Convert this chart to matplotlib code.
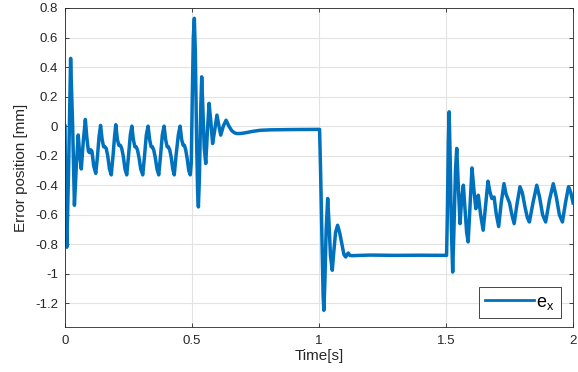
import matplotlib
matplotlib.use("Agg")
import matplotlib.pyplot as plt
from matplotlib.ticker import FuncFormatter

# 读图得到的误差曲线 (time [s], error [mm])
t = [0.000, 0.003, 0.007, 0.014, 0.022, 0.030, 0.037, 0.045, 0.052, 0.058, 0.064, 0.072,
     0.080, 0.086, 0.092, 0.097, 0.101, 0.106, 0.113, 0.121, 0.128, 0.134,
     0.140, 0.146, 0.152, 0.157, 0.162, 0.168, 0.175, 0.182, 0.189, 0.195,
     0.200, 0.206, 0.212, 0.218, 0.223, 0.229, 0.236, 0.243, 0.250, 0.257,
     0.263, 0.269, 0.275, 0.280, 0.285, 0.291, 0.298, 0.306, 0.313, 0.320,
     0.327, 0.333, 0.339, 0.344, 0.349, 0.355, 0.362, 0.369, 0.376, 0.383,
     0.390, 0.396, 0.402, 0.407, 0.412, 0.418, 0.424, 0.430, 0.437, 0.446,
     0.453, 0.459, 0.465, 0.470, 0.475, 0.481, 0.487, 0.493, 0.497,
     0.501, 0.505, 0.509, 0.513, 0.518, 0.522, 0.525, 0.529, 0.534, 0.538,
     0.542, 0.548, 0.554, 0.560, 0.567, 0.574, 0.581, 0.589, 0.598, 0.606,
     0.613, 0.623, 0.634, 0.645, 0.656, 0.667, 0.676, 0.690, 0.710, 0.740,
     0.770, 0.810, 0.900, 0.995, 1.002,
     1.006, 1.012, 1.016, 1.019, 1.023, 1.028, 1.034, 1.039, 1.045, 1.052,
     1.058, 1.065, 1.073, 1.081, 1.090, 1.098, 1.105, 1.110, 1.115, 1.121,
     1.129, 1.200, 1.300, 1.400, 1.502,
     1.505, 1.509, 1.512, 1.516, 1.521, 1.526, 1.531, 1.537, 1.542, 1.548,
     1.555, 1.561, 1.568, 1.574, 1.581, 1.587, 1.594, 1.602, 1.609, 1.617,
     1.622, 1.627, 1.636, 1.646, 1.655, 1.665, 1.672, 1.680, 1.689, 1.698,
     1.707, 1.717, 1.728, 1.736, 1.745, 1.750, 1.759, 1.768, 1.779, 1.791,
     1.800, 1.811, 1.820, 1.828, 1.842, 1.857, 1.868, 1.880, 1.892, 1.907,
     1.922, 1.934, 1.946, 1.958, 1.970, 1.982, 1.991, 2.000]
ex = [0.000, -0.600, -0.820, -0.300, 0.459, 0.000, -0.536, -0.250, -0.060, -0.200, -0.290, -0.100,
      0.045, -0.080, -0.170, -0.180, -0.160, -0.170, -0.270, -0.320, -0.200, -0.070,
      0.005, -0.090, -0.140, -0.140, -0.150, -0.200, -0.290, -0.330, -0.200, -0.070,
      0.010, -0.090, -0.130, -0.130, -0.150, -0.200, -0.290, -0.330, -0.200, -0.060,
      0.000, -0.090, -0.140, -0.140, -0.160, -0.210, -0.290, -0.330, -0.200, -0.060,
      0.000, -0.090, -0.140, -0.140, -0.160, -0.210, -0.290, -0.330, -0.200, -0.060,
      0.000, -0.090, -0.140, -0.140, -0.160, -0.210, -0.290, -0.330, -0.200, -0.060,
      0.000, -0.090, -0.130, -0.130, -0.160, -0.220, -0.300, -0.330, -0.250,
      0.200, 0.600, 0.730, 0.500, -0.100, -0.450, -0.547, -0.350, 0.100, 0.334,
      0.150, -0.150, -0.253, -0.050, 0.154, 0.030, -0.118, -0.030, 0.075, 0.000,
      -0.061, 0.000, 0.040, 0.000, -0.030, -0.045, -0.050, -0.050, -0.045, -0.035,
      -0.028, -0.025, -0.023, -0.022, -0.022,
      -0.300, -0.800, -1.150, -1.247, -1.050, -0.700, -0.490, -0.650, -0.880, -0.976,
      -0.850, -0.720, -0.671, -0.720, -0.800, -0.870, -0.886, -0.870, -0.859, -0.875,
      -0.877, -0.873, -0.875, -0.874, -0.875,
      -0.600, -0.100, 0.097, -0.200, -0.700, -0.988, -0.700, -0.300, -0.151, -0.400,
      -0.660, -0.500, -0.400, -0.550, -0.720, -0.784, -0.550, -0.283, -0.420, -0.559,
      -0.500, -0.468, -0.600, -0.705, -0.550, -0.373, -0.440, -0.490, -0.480, -0.600,
      -0.680, -0.520, -0.389, -0.460, -0.500, -0.520, -0.600, -0.660, -0.530, -0.410,
      -0.450, -0.550, -0.620, -0.649, -0.520, -0.400, -0.480, -0.600, -0.649, -0.500,
      -0.390, -0.480, -0.600, -0.649, -0.520, -0.410, -0.450, -0.520]

x_ticks = [0, 0.5, 1, 1.5, 2]
y_ticks = [-1.2, -1, -0.8, -0.6, -0.4, -0.2, 0, 0.2, 0.4, 0.6, 0.8]

plt.rcParams['font.family'] = ['Liberation Sans', 'DejaVu Sans']
plt.rcParams['axes.unicode_minus'] = False


def fmt(v, pos):
    return ('%g' % round(v, 2))


fig = plt.figure(figsize=(5.78, 3.72), dpi=100)
ax = fig.add_axes([0.1125, 0.121, 0.879, 0.8575])
ax.plot(t, ex, color='#0072BD', linewidth=2.5, label=r'$\mathregular{e_x}$')

ax.set_xlim(0, 2)
ax.set_ylim(-1.36, 0.8)
ax.set_xticks(x_ticks)
ax.set_yticks(y_ticks)
ax.xaxis.set_major_formatter(FuncFormatter(fmt))
ax.yaxis.set_major_formatter(FuncFormatter(fmt))
ax.grid(True, color='#e3e3e3', linewidth=0.8)
ax.set_axisbelow(True)
ax.tick_params(direction='in', top=True, right=True, length=3, width=0.6,
               labelsize=9.5, colors='#262626')
ax.tick_params(axis='x', pad=6)
ax.tick_params(axis='y', pad=5)
for s in ax.spines.values():
    s.set_color('#262626')
    s.set_linewidth(0.6)

ax.set_xlabel('Time[s]', fontsize=11, color='#262626', labelpad=1)
ax.set_ylabel('Error position [mm]', fontsize=11, color='#262626', labelpad=5)

leg = ax.legend(loc='lower right', bbox_to_anchor=(0.9765, 0.028), borderaxespad=0,
                fontsize=13, fancybox=False, framealpha=1, edgecolor='#262626',
                handlelength=2.7, handletextpad=0.15, borderpad=0.35)
leg.get_frame().set_linewidth(0.6)
leg.get_lines()[0].set_linewidth(2.0)

fig.savefig('out.png', dpi=100)
